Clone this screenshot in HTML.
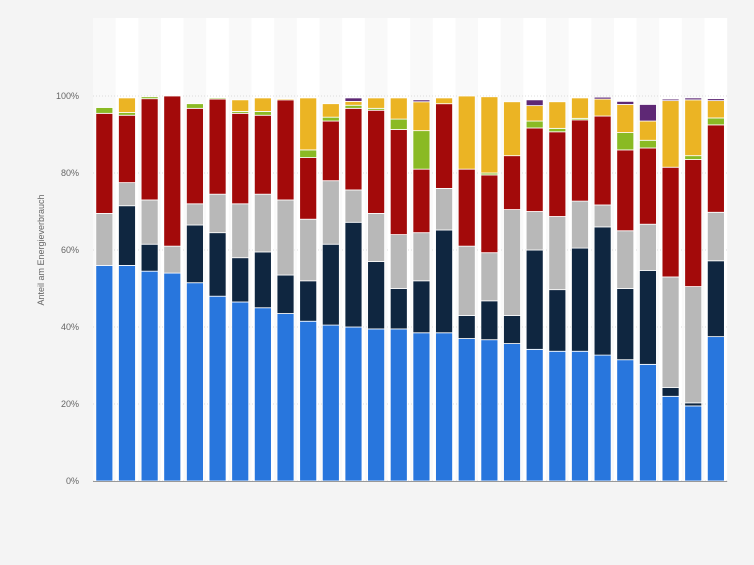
<!DOCTYPE html>
<html><head><meta charset="utf-8"><style>
body{margin:0;background:#f4f4f4;font-family:"Liberation Sans",sans-serif}
</style></head><body>
<svg id="c" width="754" height="560" xmlns="http://www.w3.org/2000/svg"></svg>
<script>
const categories=[1,2,3,4,5,6,7,8,9,10,11,12,13,14,15,16,17,18,19,20,21,22,23,24,25,26,27,28];
const blue=[56,56,54.5,54,51.5,48,46.5,45,43.5,41.5,40.5,40,39.5,39.5,38.5,38.5,37,36.7,35.7,34.2,33.7,33.7,32.7,31.5,30.3,22,19.5,37.5];
const navy=[0,15.5,7,0,15,16.5,11.5,14.5,10,10.5,21,27.2,17.5,10.5,13.5,26.7,6,10.1,7.3,25.8,16,26.8,33.3,18.5,24.4,2.3,0.8,19.7];
const gray=[13.5,6,11.5,7,5.5,10,14,15,19.5,16,16.5,8.4,12.5,14,12.5,10.8,18,12.5,27.5,10,19,12.2,5.7,15,12,28.7,30.2,12.6];
const red=[26,17.5,26.3,39,24.8,24.7,23.5,20.5,26,16,15.5,21.2,26.8,27.3,16.5,22,20,20.2,14,21.7,22,21.1,23.1,21,19.8,28.5,33,22.7];
const green=[1.5,0.7,0.5,0,1.2,0.3,0.5,1,0,2,1,0.8,0.5,2.7,10,0,0,0.5,0,1.8,0.9,0.4,0,4.5,2,0,1,1.8];
const yellow=[0,3.8,0,0,0,0,3,3.5,0.3,13.5,3.5,1,2.7,5.5,7.5,1.5,19,19.8,14,4,6.9,5.3,4.4,7.3,5,17.3,14.5,4.5];
const purple=[0,0,0,0,0,0,0,0,0,0,0,0.9,0,0,0.5,0,0,0,0,1.5,0,0,0.5,0.8,4.3,0.4,0.5,0.5];
const yTicks=[0,20,40,60,80,100];
const yTickLabels=["0%","20%","40%","60%","80%","100%"];
const series=[["blue",blue,"#2876dd"],["navy",navy,"#0f2640"],["gray",gray,"#b8b8b8"],["red",red,"#a30a0a"],["green",green,"#8aba24"],["yellow",yellow,"#ebb424"],["purple",purple,"#5e2875"]];
const svg=document.getElementById('c');const NS="http://www.w3.org/2000/svg";
const x0=93,pitch=22.65,bw=17,yTop=18,yBase=481;
const y=v=>yBase-v*3.85;
const X=i=>x0+i*pitch;
function mk(t,a,p){const e=document.createElementNS(NS,t);for(const k in a)e.setAttribute(k,a[k]);(p||svg).appendChild(e);return e;}
const bg=mk('rect',{x:93,y:yTop,width:pitch*28,height:yBase-yTop,fill:'#f9f9f9'});


categories.forEach((c,i)=>{if(i%2===1){const s=mk('rect',{x:X(i),y:yTop,width:pitch,height:yBase-yTop,fill:'#ffffff'});

}});
yTicks.forEach((t,j)=>{
const g=mk('line',{x1:93,x2:93+pitch*28,y1:y(t),y2:y(t),stroke:'#dcdcdc','stroke-dasharray':'1,2'});


const l=mk('text',{x:79,y:y(t)+3,'text-anchor':'end','font-size':'9',fill:'#666'});l.textContent=yTickLabels[j];

});
categories.forEach((c,i)=>{let cum=0;series.forEach(([n,arr,col])=>{const v=arr[i];if(v>0){
const r=mk('rect',{x:X(i)+(pitch-bw)/2,y:y(cum+v),width:bw,height:v*3.85,fill:col,stroke:'#fff','stroke-width':'0.8'});

}cum+=v;});});
const ax=mk('line',{x1:93,x2:93+pitch*28,y1:yBase+0.5,y2:yBase+0.5,stroke:'#999'});


const tt=mk('text',{x:44,y:250,'text-anchor':'middle','font-size':'9',fill:'#666',transform:'rotate(-90 44 250)'});tt.textContent='Anteil am Energieverbrauch';


</script>
</body></html>
